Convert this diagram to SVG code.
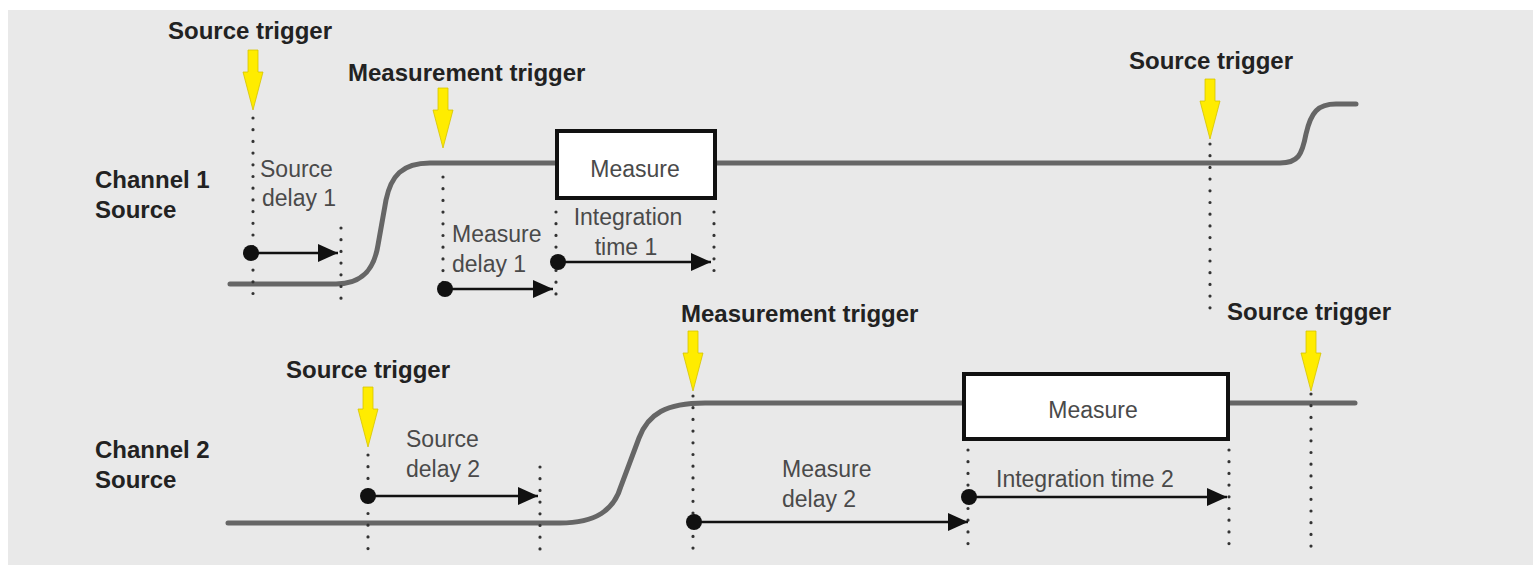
<svg xmlns="http://www.w3.org/2000/svg" xmlns:xlink="http://www.w3.org/1999/xlink" width="1533" height="565" viewBox="0 0 1533 565">
<style>
.bold{font-family:"Liberation Sans",Arial,sans-serif;font-weight:bold;font-size:24px;fill:#222}
.lbl{font-family:"Liberation Sans",Arial,sans-serif;font-size:23px;fill:#4a4a4a}
.wave{fill:none;stroke:#666;stroke-width:5;stroke-linecap:round}
.dot{fill:none;stroke:#333;stroke-width:3.2;stroke-dasharray:0 11.7;stroke-linecap:round}
.arr{stroke:#111;stroke-width:2.5;fill:none}
.ball{fill:#111}
.box{fill:#fff;stroke:#111;stroke-width:4}
.yel{fill:#ffec00;stroke:#d6c400;stroke-width:0.8}
</style>
<defs>
<marker id="ah" viewBox="0 0 20 18" markerWidth="20" markerHeight="18" refX="20" refY="9" orient="auto" markerUnits="userSpaceOnUse">
<path d="M0,0 L20,9 L0,18 Z" fill="#111"/>
</marker>
<path id="ya" d="M-5,0 H5 V22 H10 L0,60 L-10,22 H-5 Z"/>
</defs>
<rect x="0" y="0" width="1533" height="565" fill="#ffffff"/>
<rect x="8" y="10" width="1525" height="555" fill="#e9e9e9"/>

<g id="connectors">
<path class="wave" d="M230,284 H336 C362,284 374,270 378,245 L386,200 C391,176 402,163 430,163 H556"/>
<path class="wave" d="M717,163 H1280 C1298,163 1302,155 1306,134 C1311,112 1318,104 1336,104 H1356"/>
<path class="wave" d="M228,523 H560 C596,523 614,510 621,486 L639,438 C648,414 666,403 705,403 H964"/>
<path class="wave" d="M1230,403 H1355"/>
<line class="dot" x1="253" y1="118" x2="253" y2="304"/>
<line class="dot" x1="341" y1="228" x2="341" y2="304"/>
<line class="dot" x1="443" y1="177" x2="443" y2="300"/>
<line class="dot" x1="556" y1="212" x2="556" y2="300"/>
<line class="dot" x1="714" y1="212" x2="714" y2="277"/>
<line class="dot" x1="1210" y1="144" x2="1210" y2="318"/>
<line class="dot" x1="368" y1="455" x2="368" y2="555"/>
<line class="dot" x1="540" y1="467" x2="540" y2="555"/>
<line class="dot" x1="693" y1="396" x2="693" y2="552"/>
<line class="dot" x1="968" y1="450" x2="968" y2="552"/>
<line class="dot" x1="1229" y1="450" x2="1229" y2="552"/>
<line class="dot" x1="1311" y1="394" x2="1311" y2="552"/>
<line class="arr" x1="251" y1="253" x2="338" y2="253" marker-end="url(#ah)"/>
<circle class="ball" cx="251" cy="253" r="8"/>
<line class="arr" x1="445" y1="289" x2="553" y2="289" marker-end="url(#ah)"/>
<circle class="ball" cx="445" cy="289" r="8"/>
<line class="arr" x1="558" y1="262" x2="711" y2="262" marker-end="url(#ah)"/>
<circle class="ball" cx="558" cy="262" r="8"/>
<line class="arr" x1="368" y1="496" x2="538" y2="496" marker-end="url(#ah)"/>
<circle class="ball" cx="368" cy="496" r="8"/>
<line class="arr" x1="694" y1="522" x2="968" y2="522" marker-end="url(#ah)"/>
<circle class="ball" cx="694" cy="522" r="8"/>
<line class="arr" x1="969" y1="497" x2="1227" y2="497" marker-end="url(#ah)"/>
<circle class="ball" cx="969" cy="497" r="8"/>
</g>

<g id="ch1-label"><text class="bold" x="95" y="188">Channel 1</text><text class="bold" x="95" y="218">Source</text></g>
<g id="ch2-label"><text class="bold" x="95" y="458">Channel 2</text><text class="bold" x="95" y="488">Source</text></g>

<g id="src-trig-1"><text class="bold" x="168" y="39">Source trigger</text><use xlink:href="#ya" href="#ya" class="yel" x="253" y="50"/></g>
<g id="meas-trig-1"><text class="bold" x="348" y="81">Measurement trigger</text><use xlink:href="#ya" href="#ya" class="yel" x="443" y="88"/></g>
<g id="src-trig-3"><text class="bold" x="1129" y="69">Source trigger</text><use xlink:href="#ya" href="#ya" class="yel" x="1210" y="79"/></g>
<g id="src-trig-2"><text class="bold" x="286" y="378">Source trigger</text><use xlink:href="#ya" href="#ya" class="yel" x="368" y="387"/></g>
<g id="meas-trig-2"><text class="bold" x="681" y="322">Measurement trigger</text><use xlink:href="#ya" href="#ya" class="yel" x="693" y="331"/></g>
<g id="src-trig-4"><text class="bold" x="1227" y="320">Source trigger</text><use xlink:href="#ya" href="#ya" class="yel" x="1311" y="331"/></g>

<g id="measure-1"><rect class="box" x="557" y="131" width="158" height="67"/><text class="lbl" x="635" y="177" text-anchor="middle">Measure</text></g>
<g id="measure-2"><rect class="box" x="964" y="374" width="264" height="65"/><text class="lbl" x="1093" y="418" text-anchor="middle">Measure</text></g>

<g id="source-delay-1"><text class="lbl" x="260" y="177">Source</text><text class="lbl" x="262" y="206">delay 1</text></g>
<g id="measure-delay-1"><text class="lbl" x="452" y="242">Measure</text><text class="lbl" x="452" y="272">delay 1</text></g>
<g id="integration-1"><text class="lbl" x="628" y="225" text-anchor="middle">Integration</text><text class="lbl" x="626" y="255" text-anchor="middle">time 1</text></g>
<g id="source-delay-2"><text class="lbl" x="406" y="447">Source</text><text class="lbl" x="406" y="477">delay 2</text></g>
<g id="measure-delay-2"><text class="lbl" x="782" y="477">Measure</text><text class="lbl" x="782" y="507">delay 2</text></g>
<g id="integration-2"><text class="lbl" x="996" y="487">Integration time 2</text></g>
</svg>
